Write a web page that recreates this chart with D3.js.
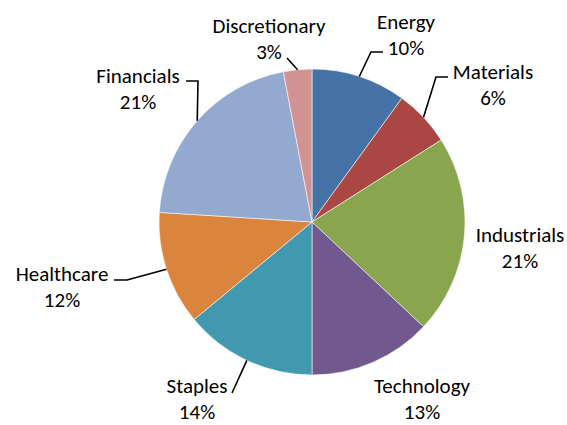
<!DOCTYPE html>
<html><head><meta charset="utf-8">
<script src="https://cdn.jsdelivr.net/npm/d3@7"></script>
<style>body{margin:0;background:#fff}svg{display:block}</style>
</head><body>
<svg id="c" width="567" height="425"></svg>
<script>
const categories = ["Energy","Materials","Industrials","Technology","Staples","Healthcare","Financials","Discretionary"];
const values = [10, 6, 21, 13, 14, 12, 21, 3];
const colors = ["#4572A7","#AA4643","#89A54E","#71588F","#4198AF","#DB843D","#93A9CF","#D19392"];

// layout: label centre (first line) and leader elbow, per category
const labelLayout = {
  Energy:       {x:406, y:22, elbow:[383,52], knee:[371,52]},
  Materials:    {x:493, y:72, elbow:[448,77], knee:[436,77]},
  Industrials:  {x:520, y:235},
  Technology:   {x:422, y:386},
  Staples:      {x:197, y:386, knee:[232,393]},
  Healthcare:   {x:62,  y:274, elbow:[114,280], knee:[127,280]},
  Financials:   {x:138, y:76,  elbow:[186,81], knee:[198,81]},
  Discretionary:{x:269, y:26,  knee:[287,58]}
};

const cx = 312, cy = 222, R = 153;
const svg = d3.select("#c");
const g = svg.append("g").attr("transform", `translate(${cx},${cy})`);
const data = categories.map((c,i)=>({name:c, value:values[i], color:colors[i]}));
const total = d3.sum(values);
const pie = d3.pie().sort(null).value(d=>d.value);
const arcs = pie(data);
const arc = d3.arc().innerRadius(0).outerRadius(R);

g.selectAll("path.slice").data(arcs).join("path")
  .attr("class","slice")
  .attr("d", arc)
  .attr("fill", d=>d.data.color)
  .attr("stroke", "#ffffff").attr("stroke-width", 0.7).attr("stroke-opacity",0.8);

// leader lines
arcs.forEach(a=>{
  const L = labelLayout[a.data.name];
  if(!L.knee) return;
  const m = (a.startAngle + a.endAngle)/2;
  const p0 = [cx + R*Math.sin(m), cy - R*Math.cos(m)];
  const pts = [p0, L.knee];
  if (L.elbow) pts.push(L.elbow);
  svg.append("path")
    .attr("d", d3.line()(pts))
    .attr("fill","none").attr("stroke","#000").attr("stroke-width",1.6);
});

// labels
const fmt = d3.format(".0%");
arcs.forEach(a=>{
  const L = labelLayout[a.data.name];
  const t = svg.append("text")
    .attr("text-anchor","middle")
    .attr("font-family","Carlito, Calibri, 'Open Sans', sans-serif")
    .attr("font-size", 21)
    .attr("fill","#000");
  t.append("tspan").attr("x", L.x).attr("y", L.y + 7).text(a.data.name);
  t.append("tspan").attr("x", L.x).attr("y", L.y + 33).text(fmt(a.data.value/total));
});
</script>
</body></html>
